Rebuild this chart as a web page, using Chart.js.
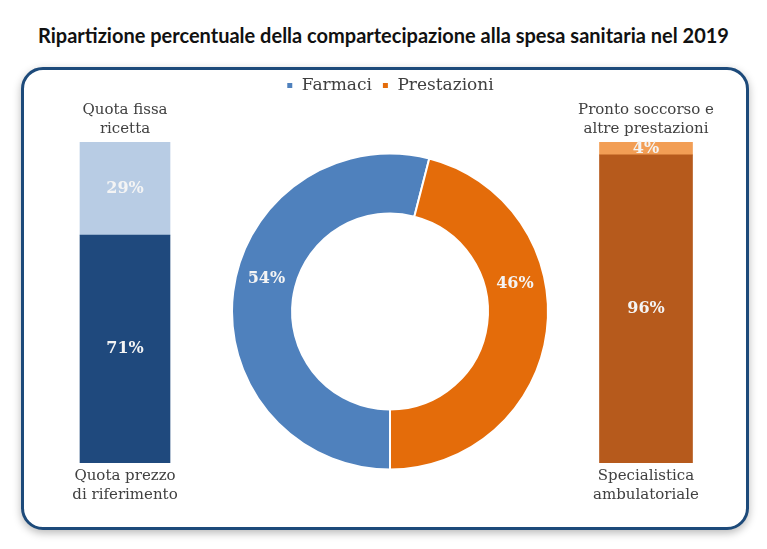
<!DOCTYPE html>
<html>
<head>
<meta charset="utf-8">
<script src="https://cdnjs.cloudflare.com/ajax/libs/Chart.js/4.4.1/chart.umd.min.js"></script>
<style>
  html,body{margin:0;padding:0;background:#fff;}
  #wrap{position:relative;width:767px;height:549px;overflow:hidden;}
  h1{position:absolute;left:0;top:23px;width:767px;margin:0;text-align:center;
     font:bold 20px Lato,"Liberation Sans",sans-serif;color:#111;}
  #box{position:absolute;left:21px;top:67px;width:722px;height:457px;border:3px solid #1d4a7a;
       border-radius:22px;box-shadow:0 3px 9px rgba(0,0,0,.28);background:#fff;}
</style>
</head>
<body>
<div id="wrap">
  <h1>Ripartizione percentuale della compartecipazione alla spesa sanitaria nel 2019</h1>
  <div id="box"></div>
  <div style="position:absolute;left:35px;top:100px;width:180px;height:405px"><canvas id="left"></canvas></div>
  <div style="position:absolute;left:190px;top:67px;width:372px;height:452px"><canvas id="mid"></canvas></div>
  <div style="position:absolute;left:556px;top:100px;width:180px;height:405px"><canvas id="right"></canvas></div>
</div>
<script>
// --- Data -------------------------------------------------------------------
const SPLIT_LABELS = ['Farmaci', 'Prestazioni'];
const SPLIT_VALUES = [54, 46];

const FARMACI_PARTS  = ['Quota prezzo di riferimento', 'Quota fissa ricetta'];
const FARMACI_VALUES = [71, 29];

const PREST_PARTS  = ['Specialistica ambulatoriale', 'Pronto soccorso e altre prestazioni'];
const PREST_VALUES = [96, 4];

const SERIF = '"DejaVu Serif","Liberation Serif",serif';
const LABEL_GREY = '#404040';

// draws the % value inside each bar segment / slice
const valueLabels = {
  id:'valueLabels',
  afterDatasetsDraw(chart, args, opts){
    const ctx = chart.ctx;
    ctx.save();
    ctx.font = 'bold 16px ' + SERIF;
    ctx.fillStyle = '#f4f4f4';
    ctx.textAlign = 'center';
    ctx.textBaseline = 'middle';
    chart.data.datasets.forEach((ds, di)=>{
      chart.getDatasetMeta(di).data.forEach((el, i)=>{
        let x, y;
        if (el.startAngle !== undefined) {
          const p = el.getProps(['x','y','startAngle','endAngle','innerRadius','outerRadius']);
          const f = (opts.frac || [])[i] ?? 0.5;
          const a = p.startAngle + (p.endAngle - p.startAngle) * f;
          const r = (p.innerRadius + p.outerRadius) / 2;
          x = p.x + Math.cos(a) * r; y = p.y + Math.sin(a) * r;
        } else {
          const c = el.getCenterPoint(); x = c.x; y = c.y;
        }
        ctx.fillText(ds.data[i] + '%', x, y);
      });
    });
    ctx.restore();
  }
};

function stackBar(id, parts, values, colors, topText, bottomText, thick){
  new Chart(document.getElementById(id), {
    type:'bar',
    data:{labels:[''], datasets: parts.map((p, i)=>({
      label:p, data:[values[i]], backgroundColor:colors[i], borderWidth:0, barThickness:thick
    }))},
    options:{
      responsive:true, maintainAspectRatio:false, animation:false,
      layout:{padding:0},
      scales:{
        x:{stacked:true, display:false},
        y:{stacked:true, display:false, min:0, max:100}
      },
      plugins:{
        legend:{display:false}, tooltip:{enabled:false},
        title:{display:true, text:topText, color:LABEL_GREY, padding:{top:0, bottom:3},
               font:{family:SERIF, size:15, weight:'normal', lineHeight:1.3}},
        subtitle:{display:true, position:'bottom', text:bottomText, color:LABEL_GREY, padding:{top:3, bottom:0},
               font:{family:SERIF, size:15, weight:'normal', lineHeight:1.3}},
        valueLabels:{}
      }
    },
    plugins:[valueLabels]
  });
}

stackBar('left', FARMACI_PARTS, FARMACI_VALUES, ['#1f497d', '#b8cce4'],
         ['Quota fissa', 'ricetta'], ['Quota prezzo', 'di riferimento'], 90);
stackBar('right', PREST_PARTS, PREST_VALUES, ['#b65a1c', '#f29e55'],
         ['Pronto soccorso e', 'altre prestazioni'], ['Specialistica', 'ambulatoriale'], 93);

new Chart(document.getElementById('mid'), {
  type:'doughnut',
  data:{labels:SPLIT_LABELS, datasets:[{
    data:SPLIT_VALUES, backgroundColor:['#4f81bd', '#e46c0a'],
    borderColor:'#fff', borderWidth:2
  }]},
  options:{
    responsive:true, maintainAspectRatio:false, animation:false,
    rotation:180, cutout:'62%',
    layout:{padding:{left:41, right:13, top:0, bottom:0}},
    plugins:{
      tooltip:{enabled:false},
      legend:{position:'top', labels:{color:LABEL_GREY, boxWidth:7, boxHeight:7, padding:10,
              font:{family:SERIF, size:17}}},
      valueLabels:{frac:[0.54, 0.38]}
    }
  },
  plugins:[valueLabels]
});
</script>
</body>
</html>
